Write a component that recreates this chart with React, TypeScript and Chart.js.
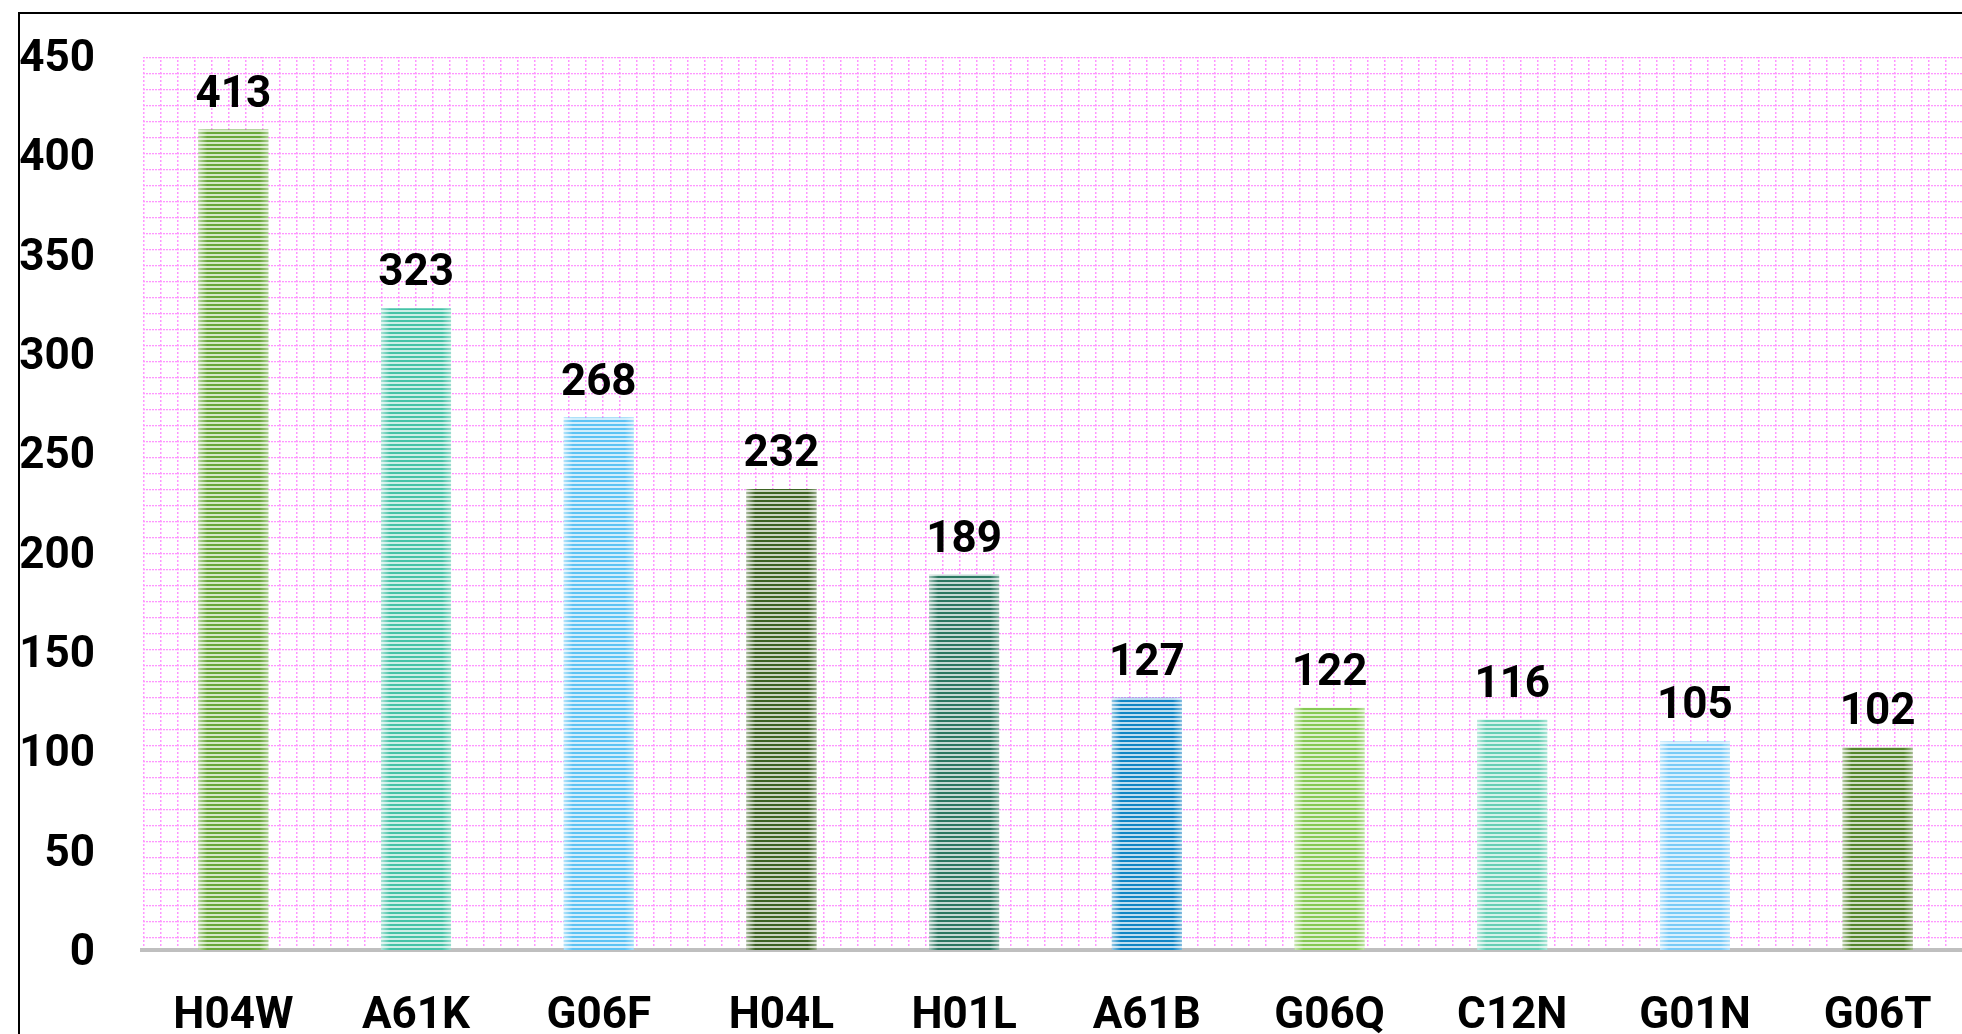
import React, { useEffect, useRef } from 'react';
import { Chart, registerables } from 'chart.js';

Chart.register(...registerables);

const categories = ['H04W', 'A61K', 'G06F', 'H04L', 'H01L', 'A61B', 'G06Q', 'C12N', 'G01N', 'G06T'];
const counts = [413, 323, 268, 232, 189, 127, 122, 116, 105, 102];
const barColors = ['#69a83a', '#45c3a7', '#5bc3f4', '#3d6323', '#2b7761', '#1086c5', '#86c953', '#66cfb5', '#79cbf7', '#54862b'];
const yMin = 0;
const yMax = 450;
const yStep = 50;

const FONT = 'Roboto';
const FONT_SIZE = 44;

function tint(hex: string, f: number): string {
  const n = parseInt(hex.slice(1), 16);
  const r = (n >> 16) & 255, g = (n >> 8) & 255, b = n & 255;
  const m = (c: number) => Math.round(c + (255 - c) * f);
  return `rgb(${m(r)},${m(g)},${m(b)})`;
}

function stripePattern(color: string): CanvasPattern | string {
  const c = document.createElement('canvas');
  c.width = 4;
  c.height = 4;
  const t = c.getContext('2d');
  if (!t) return color;
  t.fillStyle = tint(color, 0.72);
  t.fillRect(0, 0, 4, 4);
  t.fillStyle = color;
  t.fillRect(0, 0, 4, 2);
  const p = t.createPattern(c, 'repeat');
  return p || color;
}

const plotPattern = {
  id: 'plotPattern',
  beforeDatasetsDraw(chart: any) {
    const { ctx, chartArea } = chart;
    const tile = document.createElement('canvas');
    tile.width = 17;
    tile.height = 16;
    const t = tile.getContext('2d');
    if (!t) return;
    t.fillStyle = '#ff96ff';
    for (let x = 0; x < 17; x += 3) t.fillRect(x, 0, 2, 1.3);
    for (let y = 3; y < 16; y += 4) t.fillRect(0, y, 1.5, 2);
    const pat = ctx.createPattern(tile, 'repeat');
    if (!pat) return;
    ctx.save();
    ctx.translate(chartArea.left + 1, chartArea.top + 1);
    ctx.fillStyle = pat;
    ctx.fillRect(0, 0, chart.width - chartArea.left, chartArea.bottom - chartArea.top - 3);
    ctx.restore();
  },
};

const barExtras = {
  id: 'barExtras',
  afterDatasetsDraw(chart: any) {
    const { ctx } = chart;
    const meta = chart.getDatasetMeta(0);
    ctx.save();
    meta.data.forEach((bar: any, i: number) => {
      const half = bar.width / 2;
      const x0 = bar.x - half;
      const x1 = bar.x + half;
      const top = bar.y;
      const bottom = bar.base;
      const gl = ctx.createLinearGradient(x0, 0, x0 + 9, 0);
      gl.addColorStop(0, 'rgba(255,255,255,0.55)');
      gl.addColorStop(1, 'rgba(255,255,255,0)');
      ctx.fillStyle = gl;
      ctx.fillRect(x0, top, 9, bottom - top);
      const gr = ctx.createLinearGradient(x1 - 9, 0, x1, 0);
      gr.addColorStop(0, 'rgba(255,255,255,0)');
      gr.addColorStop(1, 'rgba(255,255,255,0.45)');
      ctx.fillStyle = gr;
      ctx.fillRect(x1 - 9, top, 9, bottom - top);
      ctx.fillStyle = '#000';
      ctx.font = `bold ${FONT_SIZE}px ${FONT}`;
      ctx.textAlign = 'center';
      ctx.textBaseline = 'alphabetic';
      ctx.fillText(String(counts[i]), bar.x, top - 23);
    });
    ctx.restore();
  },
};

export default function App() {
  const ref = useRef<HTMLCanvasElement>(null);

  useEffect(() => {
    const canvas = ref.current;
    if (!canvas) return;
    const chart = new Chart(canvas, {
      type: 'bar',
      data: {
        labels: categories,
        datasets: [
          {
            data: counts,
            backgroundColor: barColors.map((c) => stripePattern(c)) as any,
            borderWidth: 0,
            barPercentage: 0.383,
            categoryPercentage: 1,
          },
        ],
      },
      options: {
        responsive: false,
        animation: false,
        devicePixelRatio: 1,
        layout: { padding: { left: 0, right: 31, top: 56, bottom: 0 } },
        plugins: {
          legend: { display: false },
          tooltip: { enabled: false },
          title: { display: false },
        },
        scales: {
          x: {
            grid: { display: false, drawTicks: false },
            border: { display: true, color: '#bfbfbf', width: 4 },
            ticks: {
              font: { family: FONT, weight: 'bold', size: FONT_SIZE },
              color: '#000',
              padding: 41,
              maxRotation: 0,
              autoSkip: false,
            },
            afterFit: (s: any) => {
              s.height = 130;
            },
          },
          y: {
            min: yMin,
            max: yMax,
            ticks: {
              stepSize: yStep,
              font: { family: FONT, weight: 'bold', size: FONT_SIZE, lineHeight: 0.4 },
              color: '#000',
              padding: 47,
              labelOffset: 4,
            },
            grid: { display: false, drawTicks: false },
            border: { display: false },
            afterFit: (s: any) => {
              s.width = 142;
            },
          },
        },
      } as any,
      plugins: [plotPattern, barExtras],
    });
    return () => chart.destroy();
  }, []);

  return (
    <div
      style={{
        position: 'fixed',
        left: 0,
        top: 0,
        width: 1962,
        height: 1034,
        overflow: 'hidden',
        background: '#fff',
      }}
    >
      <div
        style={{
          position: 'absolute',
          left: 18,
          top: 12,
          width: 2200,
          height: 1200,
          border: '2px solid #000',
          boxSizing: 'border-box',
        }}
      />
      <canvas
        ref={ref}
        width={2000}
        height={1080}
        style={{ position: 'absolute', left: 0, top: 0, display: 'block' }}
      />
    </div>
  );
}
